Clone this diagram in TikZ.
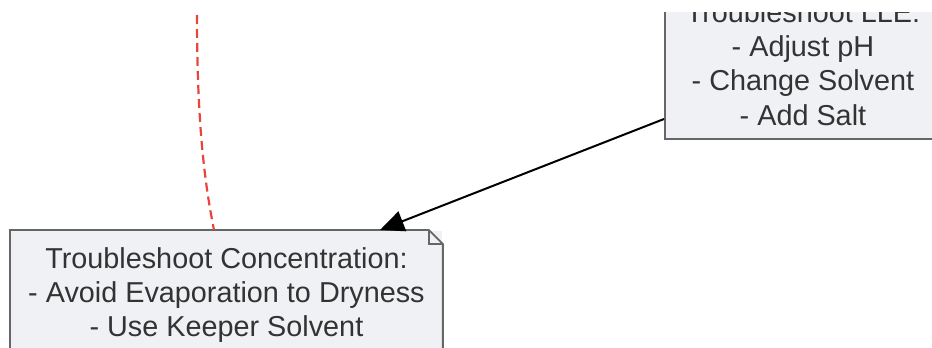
\documentclass[tikz,border=0pt]{standalone}
\usepackage{fontspec}
\setmainfont{Liberation Sans}
\usetikzlibrary{calc}
\usetikzlibrary{arrows.meta, positioning}

\definecolor{boxfill}{HTML}{F0F1F4}
\definecolor{boxline}{HTML}{666666}
\definecolor{textdark}{HTML}{333333}
\definecolor{linkred}{HTML}{E8453C}

\begin{document}
\begin{tikzpicture}[x=1pt, y=-1pt,
    box/.style={fill=boxfill, draw=boxline, line width=1.9pt, align=center,
        text=textdark, inner sep=0pt, font=\fontsize{28.8}{34.2}\selectfont},
    notebox/.style={box, draw=none},
    flow/.style={line width=2pt, -{Triangle[length=24pt, width=21pt]}},
    dashlink/.style={linkred, line width=2.2pt, dash pattern=on 9pt off 5pt}]

% Picture frame (top strip left blank)
\useasboundingbox (0,0) rectangle (932,348);
\clip (0,12) rectangle (932,348);

% Troubleshoot LLE box (cut off at top and right)
\node[box, minimum width=276pt, minimum height=151pt, anchor=south west] (lle) at (664,140)
    {Troubleshoot LLE:\\- Adjust pH\\- Change Solvent\\- Add Salt};

% Troubleshoot Concentration note (folded corner)
\node[notebox, minimum width=431pt, minimum height=128pt, anchor=north west] (conc) at (10,230)
    {Troubleshoot Concentration:\\- Avoid Evaporation to Dryness\\- Use Keeper Solvent};
\draw[boxline, line width=1.9pt, line join=miter]
    (conc.south west) -- (conc.north west) -- ($(conc.north east)+(-14,0)$)
    -- ($(conc.north east)+(0,14)$) -- (conc.south east);
\draw[boxline, line width=1.9pt]
    ($(conc.north east)+(-14,0)$) -- ($(conc.north east)+(-14,14)$) -- ($(conc.north east)+(0,14)$);

% Arrow from LLE to Concentration
\coordinate (lleout) at ($(lle.south west)+(0,-21)$);
\coordinate (concin) at ($(conc.north west)+(370,0)$);
\draw[flow] (lleout) -- (concin);

% Dashed link coming from above
\coordinate (topfree) at (197,15);
\coordinate (concred) at ($(conc.north west)+(204,0)$);
\draw[dashlink] (topfree) .. controls (197,120) and (204,180) .. (concred);

\end{tikzpicture}
\end{document}
